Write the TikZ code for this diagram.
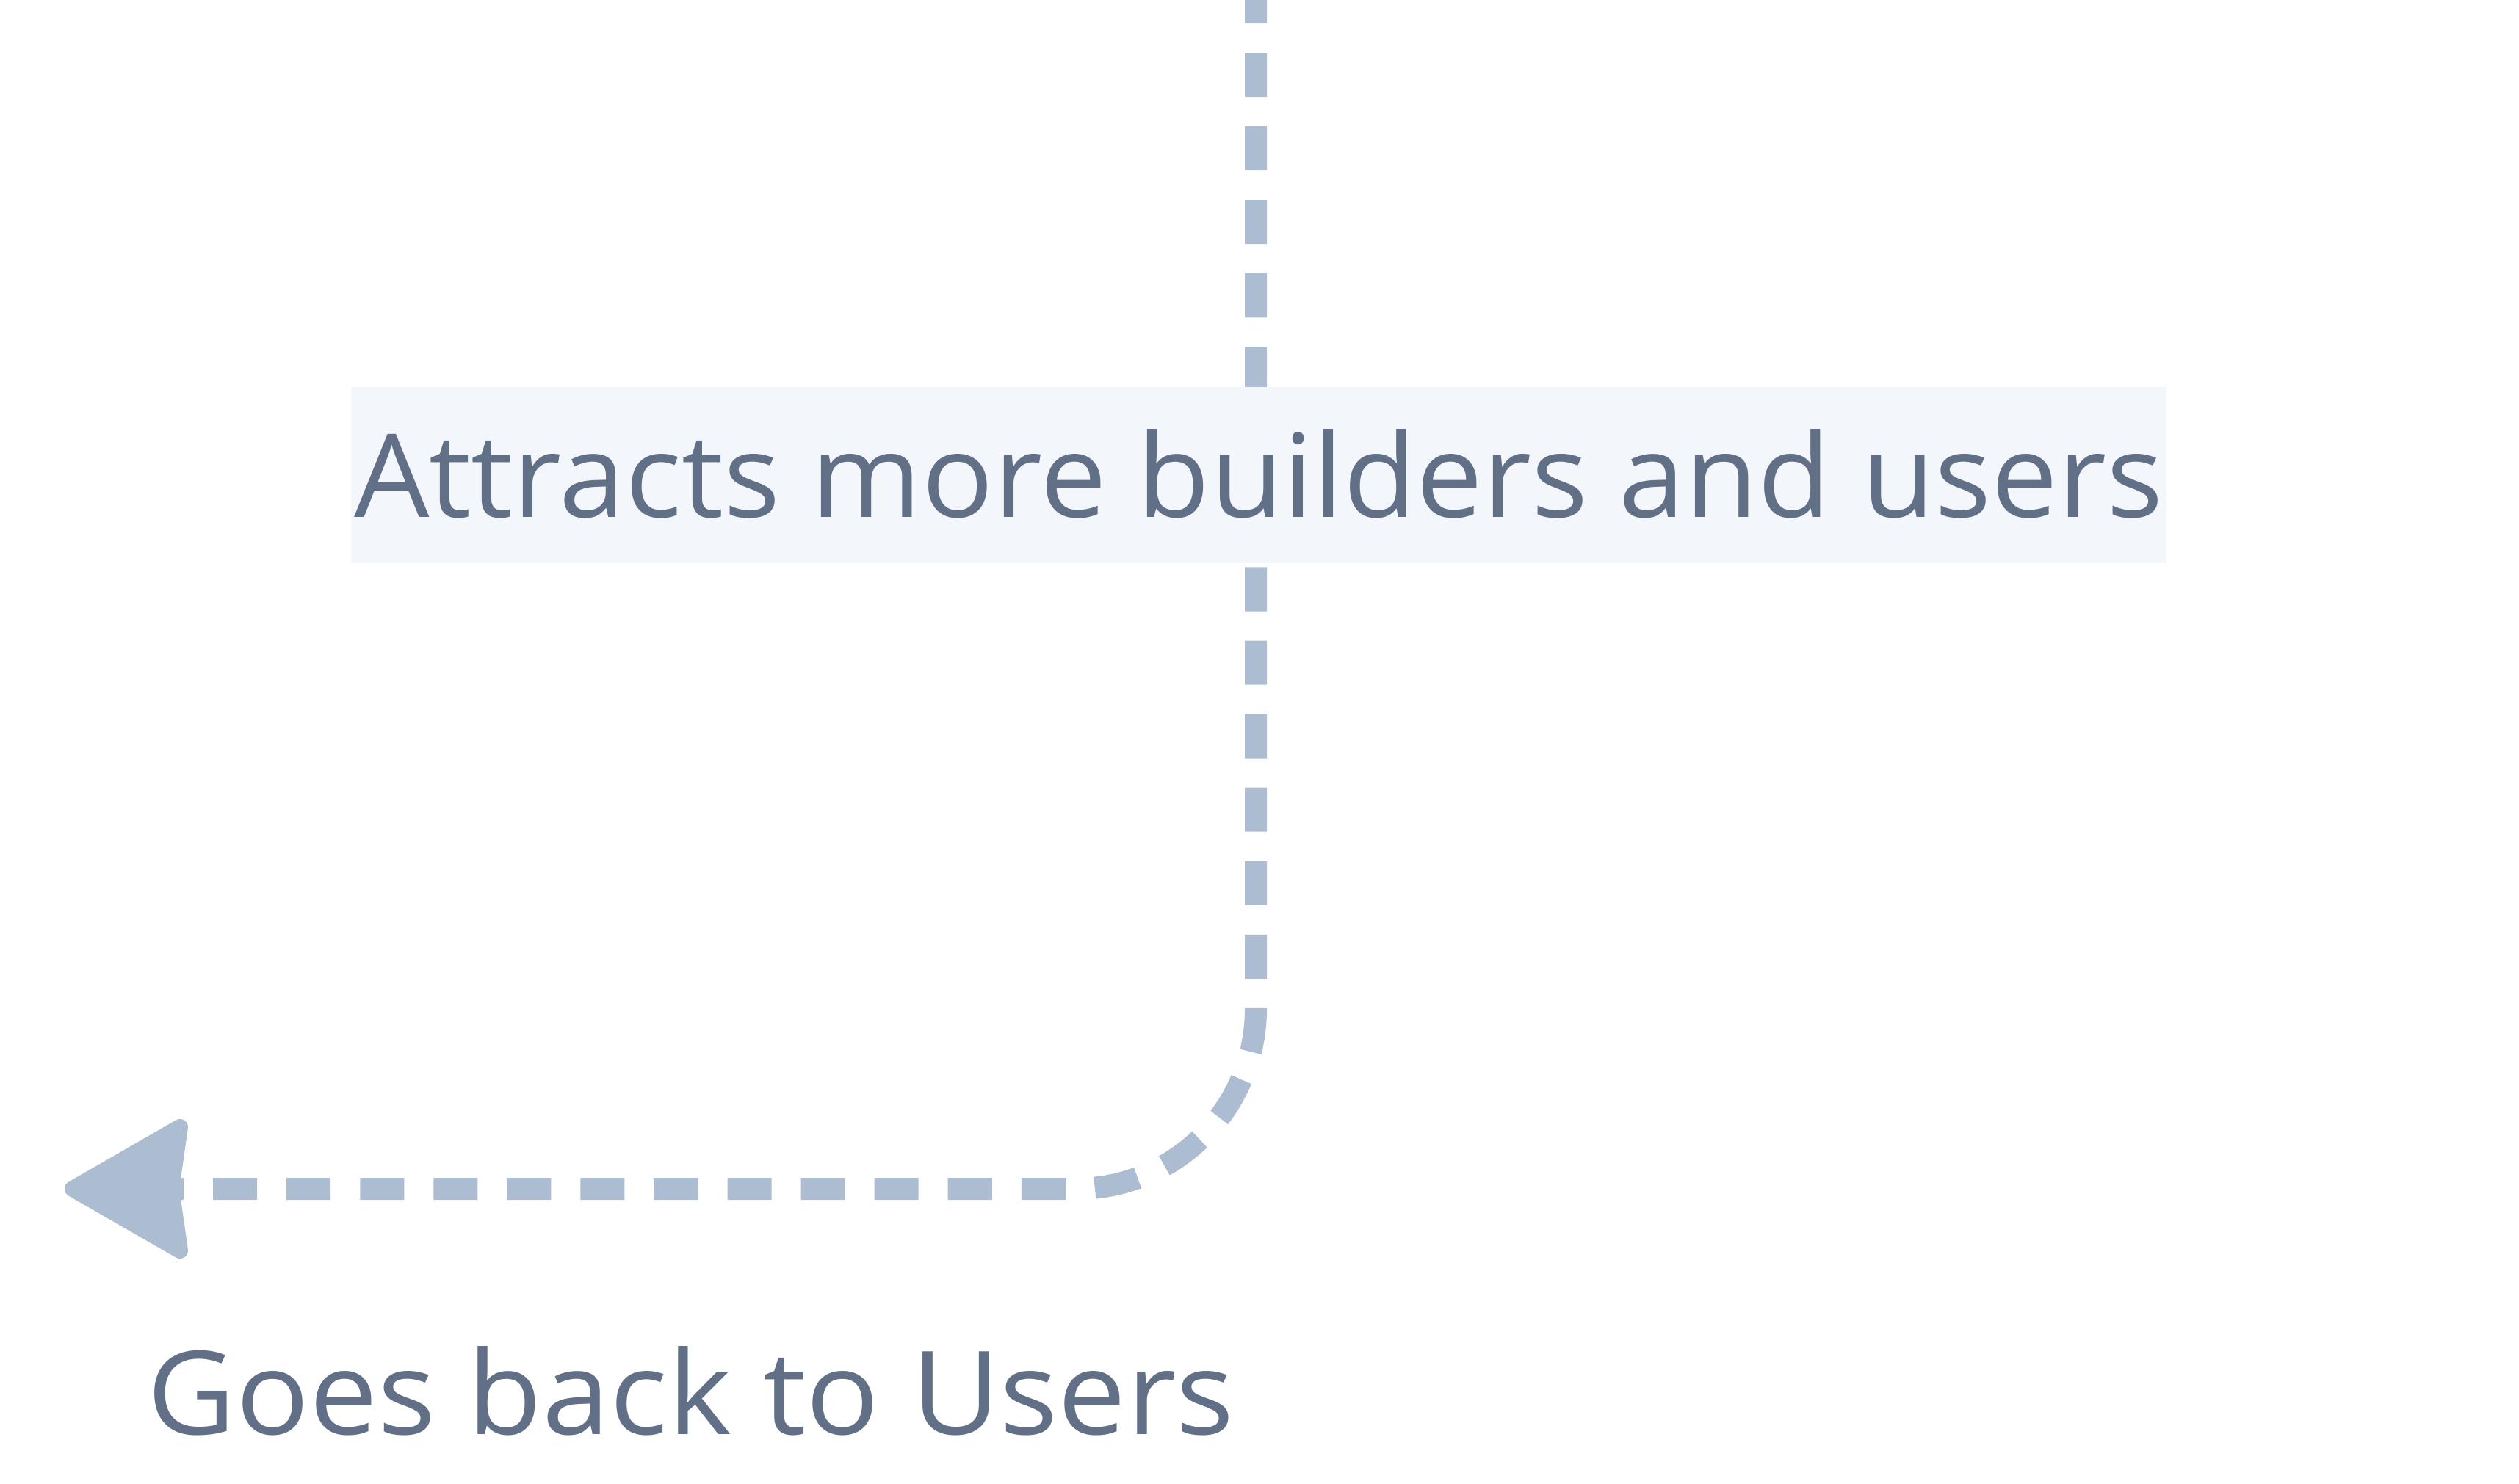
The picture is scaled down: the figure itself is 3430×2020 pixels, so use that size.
\documentclass[tikz,border=0pt]{standalone}
\usepackage{graphicx}
\usepackage{fontspec}
\setmainfont{Open Sans}
\definecolor{flowline}{RGB}{172,189,210}
\definecolor{labeltext}{RGB}{98,112,135}
\definecolor{labelbg}{RGB}{243,246,251}
\begin{document}
\begin{tikzpicture}[x=0.01cm,y=-0.01cm,
  flow/.style={draw=flowline, line width=0.3cm, dash pattern=on 0.6cm off 0.4cm, dash phase=0.28cm, rounded corners=2.45cm},
  head/.style={fill=flowline, draw=flowline, line width=0.22cm, line join=round},
  lbl/.style={text=labeltext, font=\fontsize{44.9pt}{54pt}\selectfont, inner sep=0pt},
  ]
\useasboundingbox (0,0) rectangle (3430,2020);
% path ends
\coordinate (src) at (1710,0);
\coordinate (tail) at (240,1619);
\coordinate (tip) at (99,1619);
% dashed connector with its rounded bend
\draw[flow] (src) |- (tail);
% arrowhead
\filldraw[head] (tip) -- ++(146,-84) -- ++(-12,84) -- ++(12,84) -- cycle;
% labels
\node[lbl, fill=labelbg, minimum width=24.7cm, text height=1.77cm, text depth=0.63cm] (attract) at (1714,647) {\scalebox{1.025}[1]{Attracts more builders and users}};
\node[lbl, anchor=base west] (back) at (200,1953) {\scalebox{1.05}[1]{Goes back to Users}};
\end{tikzpicture}
\end{document}
